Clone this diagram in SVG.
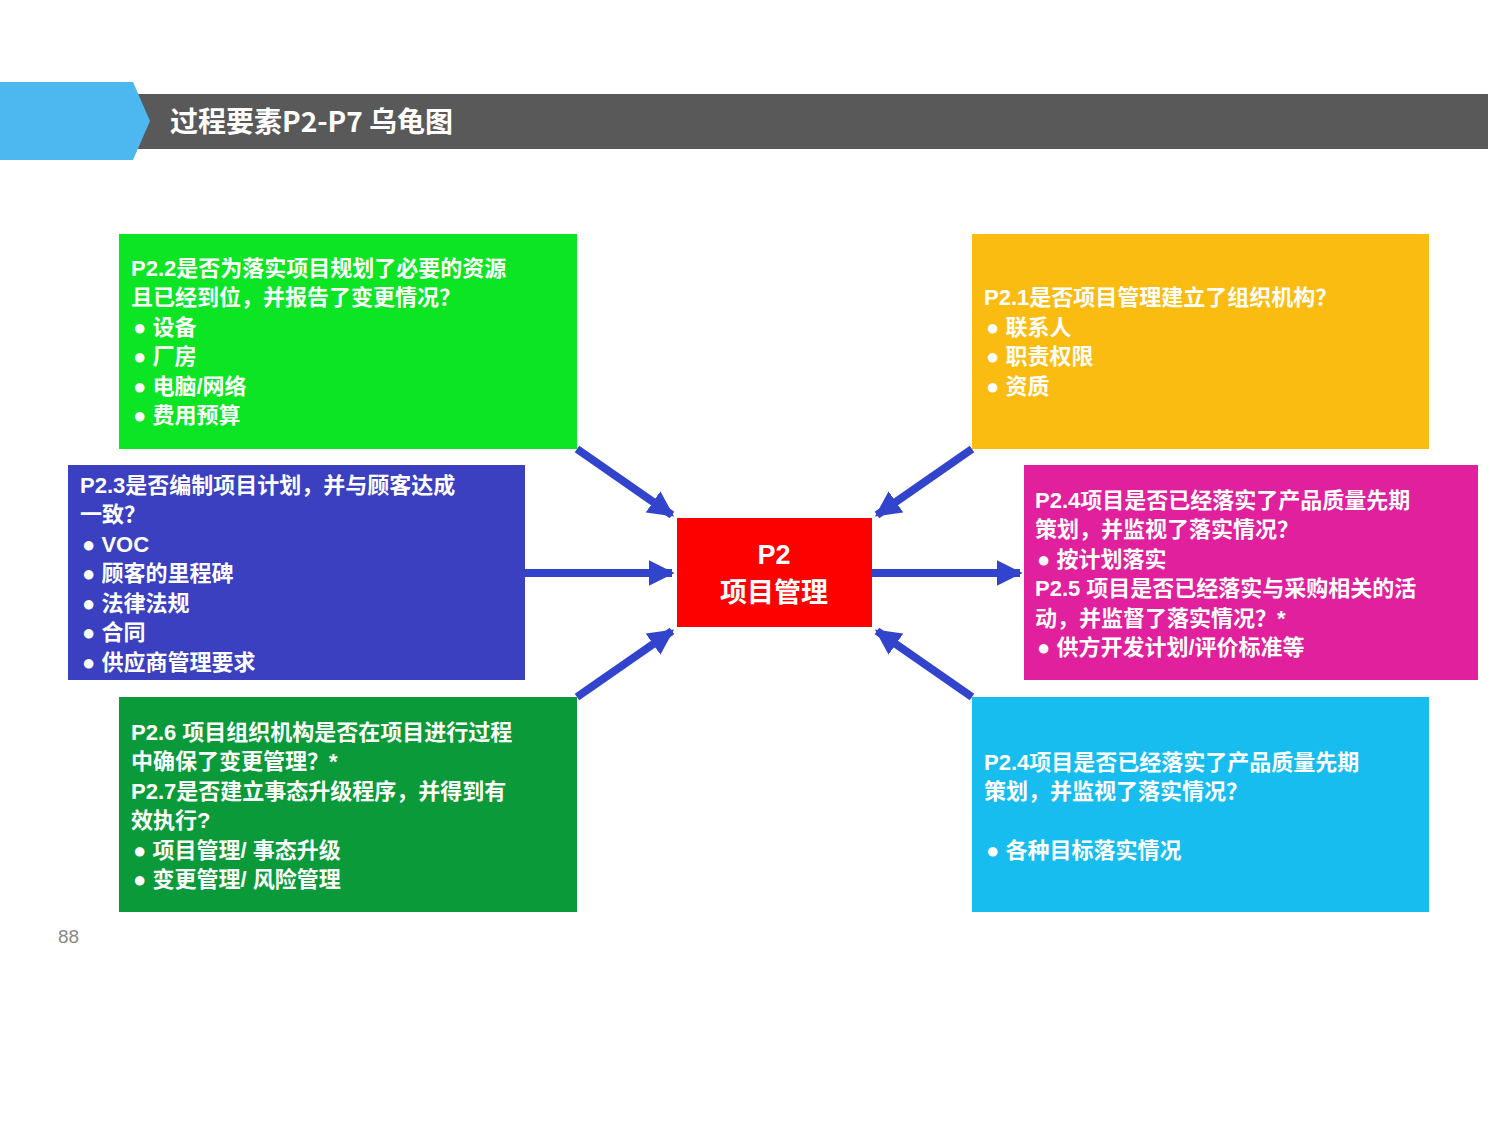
<svg xmlns="http://www.w3.org/2000/svg" width="1500" height="1125" viewBox="0 0 1500 1125">
<defs>
<style>
.t{font-family:"Liberation Sans","Noto Sans CJK SC",sans-serif;font-weight:bold;font-size:22px;fill:#fff}
.c{stroke:#3344cc;stroke-width:8;fill:none;marker-end:url(#ah)}
</style>
<marker id="ah" viewBox="0 0 10 10" refX="9" refY="5" markerWidth="3.2" markerHeight="3.2" orient="auto" markerUnits="strokeWidth">
<path d="M0,0 L10,5 L0,10 z" fill="#3344cc"/>
</marker>
</defs>
<rect width="1500" height="1125" fill="#fff"/>
<g id="header">
<rect x="135" y="94" width="1353" height="55" fill="#595959"/>
<polygon points="0,82 133,82 150,121 133,160 0,160" fill="#4db8f0"/>
<text x="170" y="132" style="font-family:'Noto Sans CJK SC',sans-serif;font-weight:bold;font-size:28px;fill:#fff">过程要素P2-P7 乌龟图</text>
</g>
<g id="connectors">
<line class="c" x1="577" y1="449" x2="672" y2="515"/>
<line class="c" x1="972" y1="449" x2="877" y2="515"/>
<line class="c" x1="525" y1="573" x2="672" y2="573"/>
<line class="c" x1="872" y1="573" x2="1020" y2="573"/>
<line class="c" x1="577" y1="697" x2="672" y2="631"/>
<line class="c" x1="972" y1="697" x2="877" y2="631"/>
</g>
<g id="p22">
<rect x="119" y="234" width="458" height="215" fill="#0be524"/>
<text class="t" x="131" y="276">P2.2是否为落实项目规划了必要的资源</text>
<text class="t" x="131" y="305">且已经到位，并报告了变更情况？</text>
<text class="t" x="133" y="335">●  设备</text>
<text class="t" x="133" y="364">●  厂房</text>
<text class="t" x="133" y="394">●  电脑/网络</text>
<text class="t" x="133" y="423">●  费用预算</text>
</g>
<g id="p21">
<rect x="972" y="234" width="457" height="215" fill="#fbbc12"/>
<text class="t" x="984" y="305">P2.1是否项目管理建立了组织机构？</text>
<text class="t" x="986" y="335">●  联系人</text>
<text class="t" x="986" y="364">●  职责权限</text>
<text class="t" x="986" y="394">●  资质</text>
</g>
<g id="p23">
<rect x="68" y="465" width="457" height="215" fill="#3a40c0"/>
<text class="t" x="80" y="493">P2.3是否编制项目计划，并与顾客达成</text>
<text class="t" x="80" y="522">一致？</text>
<text class="t" x="82" y="552">●  VOC</text>
<text class="t" x="82" y="581">●  顾客的里程碑</text>
<text class="t" x="82" y="611">●  法律法规</text>
<text class="t" x="82" y="640">●  合同</text>
<text class="t" x="82" y="670">●  供应商管理要求</text>
</g>
<g id="p2">
<rect x="677" y="518" width="195" height="109" fill="#fd0000"/>
<text class="t" x="774" y="564" text-anchor="middle" style="font-size:27px">P2</text>
<text class="t" x="774" y="602" text-anchor="middle" style="font-size:27px">项目管理</text>
</g>
<g id="p24">
<rect x="1024" y="465" width="454" height="215" fill="#e0209c"/>
<text class="t" x="1035" y="508">P2.4项目是否已经落实了产品质量先期</text>
<text class="t" x="1035" y="537">策划，并监视了落实情况？</text>
<text class="t" x="1037" y="567">●  按计划落实</text>
<text class="t" x="1035" y="596">P2.5 项目是否已经落实与采购相关的活</text>
<text class="t" x="1035" y="626">动，并监督了落实情况？*</text>
<text class="t" x="1037" y="655">●  供方开发计划/评价标准等</text>
</g>
<g id="p26">
<rect x="119" y="697" width="458" height="215" fill="#0a9a3a"/>
<text class="t" x="131" y="740">P2.6 项目组织机构是否在项目进行过程</text>
<text class="t" x="131" y="769">中确保了变更管理？*</text>
<text class="t" x="131" y="799">P2.7是否建立事态升级程序，并得到有</text>
<text class="t" x="131" y="828">效执行?</text>
<text class="t" x="133" y="858">●  项目管理/  事态升级</text>
<text class="t" x="133" y="887">●  变更管理/  风险管理</text>
</g>
<g id="p24b">
<rect x="972" y="697" width="457" height="215" fill="#18bdf0"/>
<text class="t" x="984" y="770">P2.4项目是否已经落实了产品质量先期</text>
<text class="t" x="984" y="799">策划，并监视了落实情况？</text>
<text class="t" x="986" y="858">●  各种目标落实情况</text>
</g>
<text x="58" y="943" style="font-family:'Liberation Sans',sans-serif;font-size:19px;fill:#888">88</text>
</svg>
